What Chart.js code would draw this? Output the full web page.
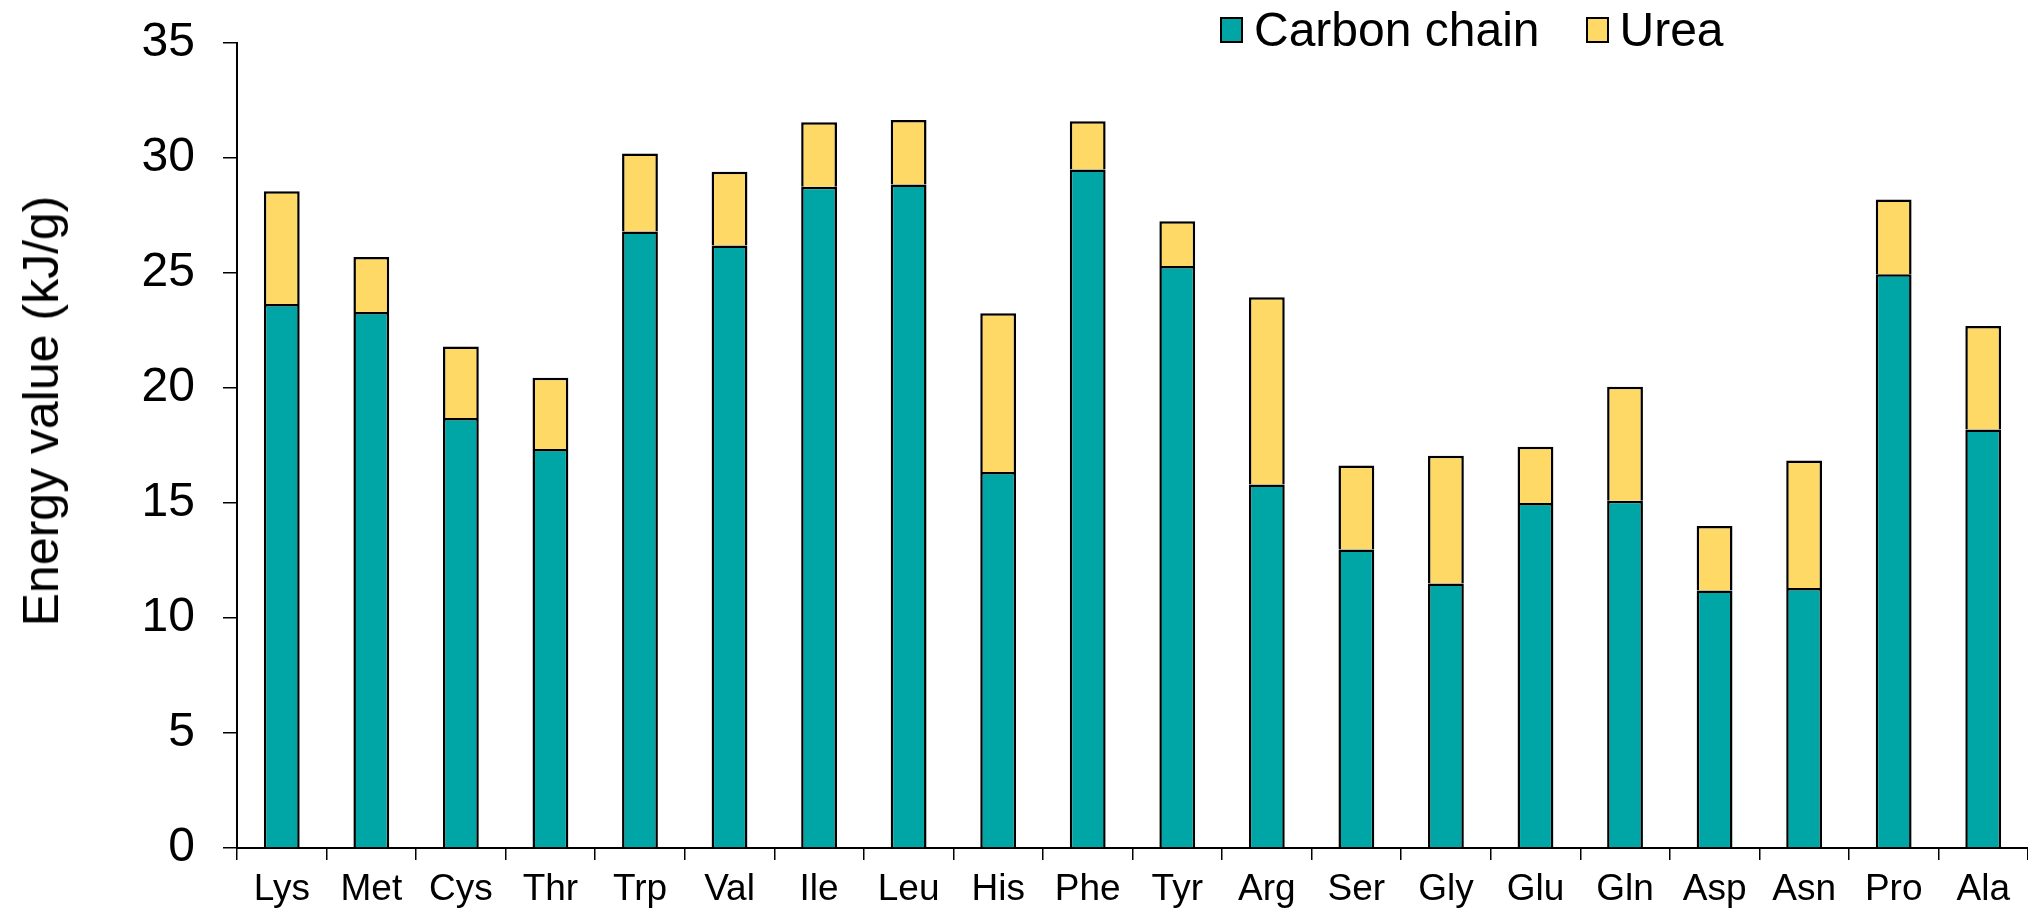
<!DOCTYPE html>
<html>
<head>
<meta charset="utf-8">
<script src="https://cdn.jsdelivr.net/npm/chart.js@4"></script>
<style>
  html, body { margin: 0; padding: 0; background: #fff; }
  #wrap { position: relative; width: 2028px; height: 915px; }
  #legend { position: absolute; left: 1220px; top: 2px; display: flex; align-items: center;
            font-family: "Liberation Sans", Arial, sans-serif; font-size: 48px; color: #000; }
  .item { display: flex; align-items: center; margin-right: 46px; }
  .box { width: 23px; height: 26px; border: 2px solid #000; margin-right: 11px; box-sizing: border-box; }
  #yTitle { position: absolute; left: 41px; top: 411px; transform: translate(-50%, -50%) rotate(-90deg);
            white-space: nowrap; font-family: "Liberation Sans", Arial, sans-serif; font-size: 50px; color: #000; }
</style>
</head>
<body>
<div id="wrap">
  <canvas id="energyChart" width="2028" height="915"></canvas>
  <div id="legend"></div>
  <div id="yTitle"></div>
</div>
<script>
// amino acids on the x axis
const aminoAcids = ['Lys', 'Met', 'Cys', 'Thr', 'Trp', 'Val', 'Ile', 'Leu', 'His', 'Phe',
                    'Tyr', 'Arg', 'Ser', 'Gly', 'Glu', 'Gln', 'Asp', 'Asn', 'Pro', 'Ala'];

// energy from the carbon chain (kJ/g), bottom part of each bar
const carbonChain = [23.65, 23.3, 18.7, 17.35, 26.8, 26.2, 28.75, 28.85, 16.35, 29.5,
                     25.3, 15.8, 12.98, 11.5, 15.0, 15.1, 11.2, 11.3, 24.95, 18.2];

// extra energy from urea (kJ/g), stacked on top
const urea = [4.9, 2.4, 3.1, 3.1, 3.4, 3.2, 2.8, 2.8, 6.9, 2.1,
              1.95, 8.15, 3.65, 5.55, 2.45, 4.95, 2.8, 5.55, 3.25, 4.5];

const seriesNames = ['Carbon chain', 'Urea'];
const seriesColors = ['#00A5A5', '#FFD966'];
const yAxisTitle = 'Energy value (kJ/g)';

const yTicks = { min: 0, max: 35, step: 5 };
const fontFamily = '"Liberation Sans", Arial, sans-serif';

// html legend + axis title
const legendEl = document.getElementById('legend');
seriesNames.forEach((name, i) => {
  const item = document.createElement('div');
  item.className = 'item';
  item.innerHTML = `<span class="box" style="background:${seriesColors[i]}"></span><span>${name}</span>`;
  legendEl.appendChild(item);
});
document.getElementById('yTitle').textContent = yAxisTitle;

const ctx = document.getElementById('energyChart').getContext('2d');
new Chart(ctx, {
  type: 'bar',
  data: {
    labels: aminoAcids,
    datasets: [
      { label: seriesNames[0], data: carbonChain, backgroundColor: seriesColors[0],
        borderColor: '#000', borderWidth: 2.5 },
      { label: seriesNames[1], data: urea, backgroundColor: seriesColors[1],
        borderColor: '#000', borderWidth: 2.5 }
    ]
  },
  options: {
    responsive: false,
    devicePixelRatio: 1,
    animation: false,
    barPercentage: 0.4,
    categoryPercentage: 1,
    layout: { padding: 0 },
    plugins: {
      legend: { display: false },
      tooltip: { enabled: false }
    },
    scales: {
      x: {
        stacked: true,
        grid: { offset: true, drawOnChartArea: false, drawTicks: true, tickLength: 12, color: '#000', lineWidth: 1.5 },
        border: { color: '#000', width: 2 },
        ticks: { color: '#000', font: { family: fontFamily, size: 37 }, padding: 8, maxRotation: 0 },
        afterFit(scale) { scale.height = 67; }
      },
      y: {
        stacked: true,
        min: yTicks.min,
        max: yTicks.max,
        grid: { drawOnChartArea: false, drawTicks: true, tickLength: 14, color: '#000', lineWidth: 1.5 },
        border: { color: '#000', width: 2 },
        ticks: { stepSize: yTicks.step, color: '#000', font: { family: fontFamily, size: 48 }, padding: 28 },
        afterFit(scale) {
          // fixed plot box: left edge at 237, top at 43
          scale.width = 237;
          scale.paddingTop = 43;
          scale.paddingBottom = 0;
        }
      }
    }
  }
});
</script>
</body>
</html>
